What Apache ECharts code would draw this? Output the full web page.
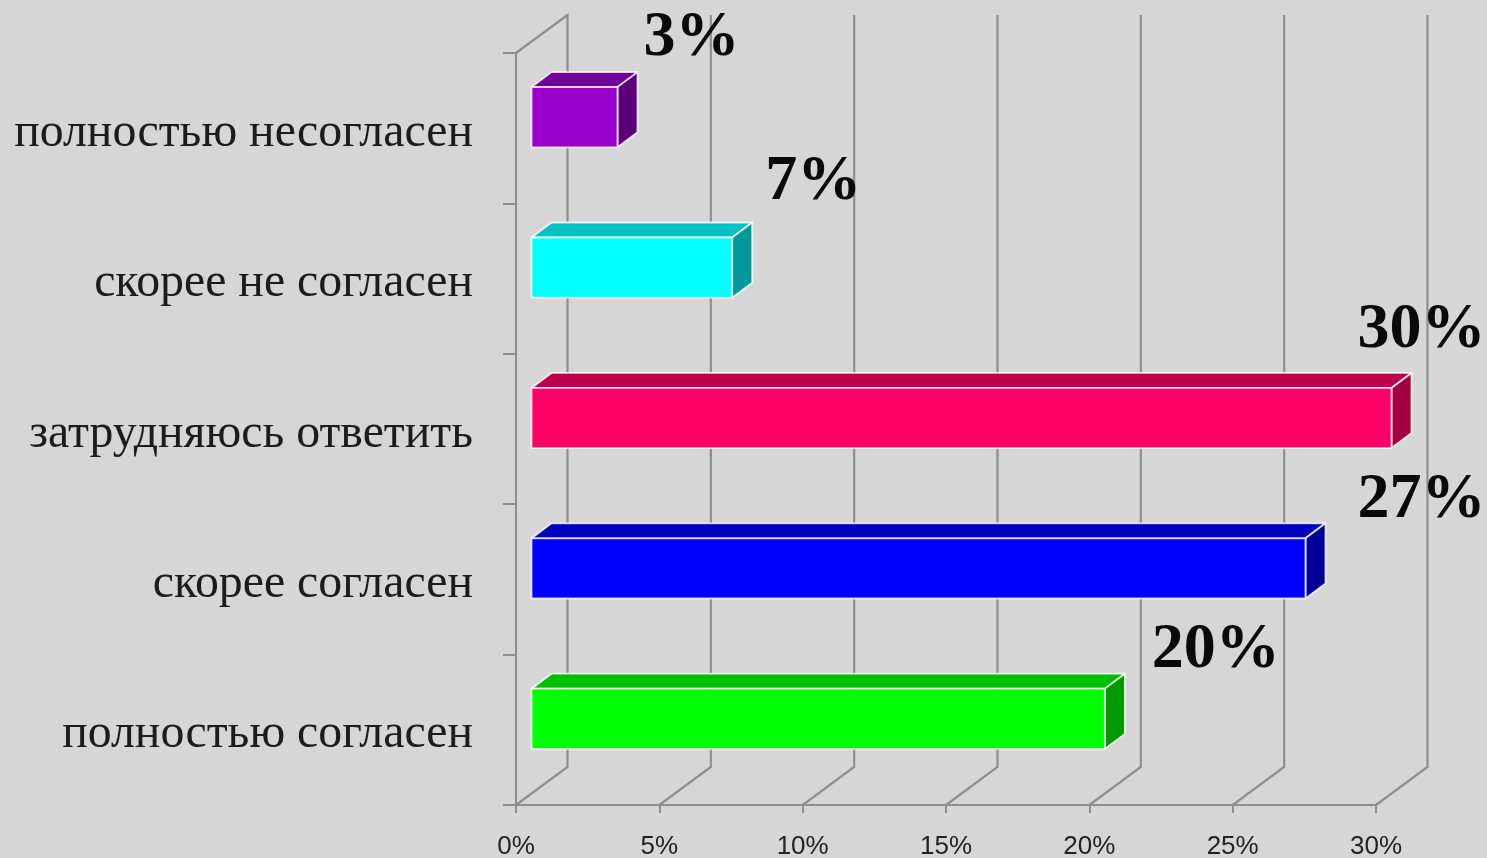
<!DOCTYPE html>
<html>
<head>
<meta charset="utf-8">
<style>html,body{margin:0;padding:0;background:#d6d6d6}#c{width:1487px;height:858px}</style>
<script src="https://cdn.jsdelivr.net/npm/echarts@6/dist/echarts.min.js"></script>
</head>
<body>
<div id="c"></div>
<script>
const categories = ['полностью согласен', 'скорее согласен', 'затрудняюсь ответить', 'скорее не согласен', 'полностью несогласен'];
const values = [20, 27, 30, 7, 3];
const valueLabels = ['20%', '27%', '30%', '7%', '3%'];
const xTicks = [0, 5, 10, 15, 20, 25, 30];
const frontColors = ['#00ff00', '#0000ff', '#ff0066', '#00ffff', '#9900cc'];
const topColors = ['#00bf00', '#0000bf', '#bd004d', '#00c2c2', '#730099'];
const sideColors = ['#009a00', '#000099', '#a3003f', '#009999', '#5c007a'];

// Styling and layout constants for the pseudo-3D drawing
const wallDX = 51.5, wallDY = -38;
const barDX = 15.5, barDY = -11, barDepthX = 20, barDepthY = -15;
const labelNudge = [[47, -68], [52, -68], [-34, -88], [33, -85], [26, -79]];
const wallColor = '#8e8e8e';

function renderWalls(params, api) {
  const v = api.value(0);
  const cs = params.coordSys;
  const x = api.coord([v, 0])[0];
  const top = cs.y, bottom = cs.y + cs.height;
  const style = { stroke: wallColor, lineWidth: 2.2, fill: null };
  const pts = [[x, bottom], [x + wallDX, bottom + wallDY], [x + wallDX, top + wallDY]];
  if (v === 0) pts.push([x, top]);
  return { type: 'polyline', shape: { points: pts }, style: style, silent: true };
}

function renderBar(params, api) {
  const i = params.dataIndex;
  const val = api.value(0), cat = api.value(1);
  const origin = api.coord([0, cat]);
  const end = api.coord([val, cat]);
  const h = api.size([0, 1])[1] * 0.4;
  const x0 = origin[0] + barDX, x1 = x0 + (end[0] - origin[0]);
  const yc = origin[1] + barDY;
  const y0 = yc - h / 2, y1 = yc + h / 2;
  const edge = { stroke: 'rgba(255,255,255,0.8)', lineWidth: 1.8, lineJoin: 'round' };
  const poly = (pts, fill) => ({ type: 'polygon', shape: { points: pts }, style: Object.assign({ fill }, edge) });
  return {
    type: 'group',
    children: [
      poly([[x0, y0], [x0 + barDepthX, y0 + barDepthY], [x1 + barDepthX, y0 + barDepthY], [x1, y0]], topColors[i]),
      poly([[x1, y0], [x1 + barDepthX, y0 + barDepthY], [x1 + barDepthX, y1 + barDepthY], [x1, y1]], sideColors[i]),
      poly([[x0, y0], [x1, y0], [x1, y1], [x0, y1]], frontColors[i]),
      {
        type: 'text',
        style: {
          x: x1 + labelNudge[i][0], y: yc + labelNudge[i][1],
          text: valueLabels[i],
          fontFamily: '"Liberation Serif"', fontSize: 64, fontWeight: 'bold',
          fill: '#0a0a0a', align: 'left', verticalAlign: 'middle'
        }
      }
    ]
  };
}

const chart = echarts.init(document.getElementById('c'), null, { renderer: 'canvas' });
chart.setOption({
  animation: false,
  backgroundColor: '#d6d6d6',
  grid: { left: 516, right: 111, top: 53, bottom: 53, containLabel: false, outerBoundsMode: 'none' },
  xAxis: {
    type: 'value', min: 0, max: 30, interval: 5,
    axisLine: { show: true, lineStyle: { color: wallColor, width: 2 } },
    axisTick: { show: true, length: 8, lineStyle: { color: wallColor, width: 2 } },
    splitLine: { show: false },
    axisLabel: { formatter: '{value}%', fontFamily: '"Liberation Sans"', fontSize: 26, color: '#222', margin: 29, showMinLabel: true, showMaxLabel: true }
  },
  yAxis: {
    type: 'category', data: categories,
    axisLine: { show: true, lineStyle: { color: wallColor, width: 2 } },
    axisTick: { show: true, length: 13, alignWithLabel: false, lineStyle: { color: wallColor, width: 2 } },
    splitLine: { show: false },
    axisLabel: {
      margin: 43, interval: 0,
      formatter: v => '{l|' + v + '}',
      rich: { l: { fontFamily: '"Liberation Serif"', fontSize: 47.8, color: '#1c1c1c', padding: [10, 0, 0, 0] } }
    }
  },
  series: [
    { type: 'custom', name: 'walls', renderItem: renderWalls, data: xTicks.map(t => [t]), encode: { x: 0 }, clip: false, z: 1, silent: true, tooltip: { show: false } },
    { type: 'custom', name: 'bars', renderItem: renderBar, data: values.map((v, i) => [v, i]), encode: { x: 0, y: 1 }, clip: false, z: 5 }
  ]
});
</script>
</body>
</html>
